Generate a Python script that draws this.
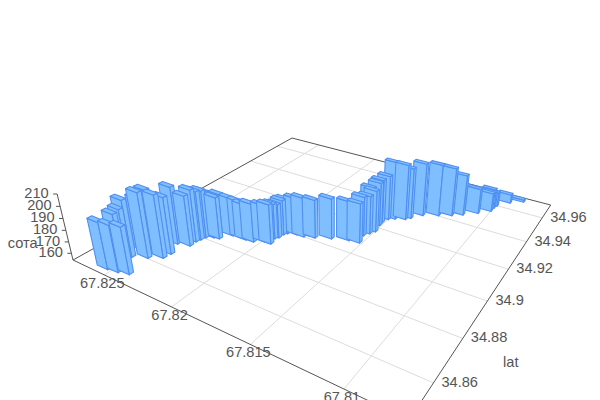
import numpy as np, pandas as pd, altair as alt

lon_vals=[67.82558,67.82489,67.82424,67.82541,67.82545,67.82542,67.82529,67.82458,67.82456,67.82387,67.82380,67.82425,67.82350,67.82352,67.82343,67.82334,67.82330,67.82294,67.82296,67.82261,67.82214,67.82159,67.82120,67.82070,67.82016,67.81973,67.81987,67.81974,67.81970,67.81957,67.81905,67.81856,67.81838,67.81794,67.81707,67.81611,67.81547,67.81566,67.81547,67.81556,67.81529,67.81543,67.81546,67.81532,67.81499,67.81443,67.81421,67.81373,67.81289,67.81220,67.81164,67.81092,67.81054,67.81032,67.81030,67.81023,67.80964,67.80894]
lat_vals=[34.8492,34.8499,34.8511,34.8541,34.8568,34.8584,34.8635,34.8610,34.8640,34.8638,34.8670,34.8729,34.8743,34.8774,34.8793,34.8813,34.8831,34.8829,34.8877,34.8834,34.8876,34.8881,34.8880,34.8884,34.8905,34.8906,34.8941,34.8954,34.8980,34.8994,34.9006,34.9008,34.9023,34.9024,34.9050,34.9074,34.9081,34.9130,34.9154,34.9184,34.9178,34.9224,34.9249,34.9282,34.9298,34.9317,34.9335,34.9380,34.9411,34.9438,34.9466,34.9509,34.9621,34.9552,34.9581,34.9604,34.9657,34.9694]
alt_vals=[194,194,194,196,197,203,200,210,209,208,203,204,198,200,197,196,193,192,188,191,188,187,186,188,187,189,185,184,185,185,187,189,186,188,190,189,189,189,188,192,191,193,193,194,206,204,200,202,201,198,191,177,167,171,169,167,162,156]
lon_ticks=[67.825,67.82,67.815,67.81]
lat_ticks=[34.86,34.88,34.9,34.92,34.94,34.96]
alt_ticks=[160,170,180,190,200,210]

# View of the box
lon0,lon1,lat0,lat1,z0,z1=67.807,67.8276,34.8458,34.972,154,210
BAR_LON,BAR_LAT,BAR_SHIFT=0.00043,0.0009,0.00007
src=[(1,0),(0,0),(0,1),(1,1)];dst=[(73,260),(409,420),(550.7,205),(292,138)]
A=[];b=[]
for (u,v),(x,y) in zip(src,dst):
    A.append([u,v,1,0,0,0,-u*x,-v*x]);b.append(x)
    A.append([0,0,0,u,v,1,-u*y,-v*y]);b.append(y)
H=np.append(np.linalg.solve(np.array(A,float),np.array(b,float)),1).reshape(3,3)
VP=np.array([335.,1350.,1.])
k=-0.0571*(H@[1,0,1])[2]/(z1-z0)
def proj(lon,lat,z):
    p=H@[(lon-lon0)/(lon1-lon0),(lat-lat0)/(lat1-lat0),1]+k*(z-z0)*VP
    return p[0]/p[2],p[1]/p[2]

def quad_rows(pts,fid):
    xs=sorted(set(p[0] for p in pts));out=[]
    n=len(pts)
    for x in xs:
        ys=[]
        for i in range(n):
            (a,c),(d,e)=pts[i],pts[(i+1)%n]
            if min(a,d)<=x<=max(a,d):
                if a==d: ys+= [c,e]
                else: ys.append(c+(x-a)/(d-a)*(e-c))
        out.append({"face":fid,"x":x,"top":min(ys),"bot":max(ys)})
    return out

order=sorted(range(len(lon_vals)),key=lambda i:proj(lon_vals[i],lat_vals[i],z0)[1])
rows=[];fid=0
for i in order:
    lo,la,z=lon_vals[i]+BAR_SHIFT,lat_vals[i],alt_vals[i]
    l,r=lo+BAR_LON,lo-BAR_LON;f,bk=la-BAR_LAT,la+BAR_LAT
    faces=[[proj(r,f,z0),proj(r,bk,z0),proj(r,bk,z),proj(r,f,z)],
           [proj(l,f,z0),proj(r,f,z0),proj(r,f,z),proj(l,f,z)],
           [proj(l,f,z),proj(r,f,z),proj(r,bk,z),proj(l,bk,z)]]
    for q in faces:
        rows+=quad_rows(q,fid);fid+=1
bars=pd.DataFrame(rows)

def seg(p,q):
    return {"x":p[0],"y":p[1],"x2":q[0],"y2":q[1]}
grid=[seg(proj(t,lat0,z0),proj(t,lat1,z0)) for t in lon_ticks]+[seg(proj(lon0,t,z0),proj(lon1,t,z0)) for t in lat_ticks]
edges=[seg(proj(lon1,lat0,z0),proj(lon0,lat0,z0)),seg(proj(lon0,lat0,z0),proj(lon0,lat1,z0)),
       seg(proj(lon0,lat1,z0),proj(lon1,lat1,z0)),seg(proj(lon1,lat1,z0),proj(lon1,lat0,z0)),
       seg(proj(lon1,lat0,z0),proj(lon1,lat0,z1))]
for t in alt_ticks:
    x,y=proj(lon1,lat0,t)
    edges.append(seg((x-4,y),(x,y)))

texts=[]
for t in lon_ticks:
    x,y=proj(t,lat0,z0);texts.append({"x":x-2,"y":y+9,"t":str(t),"a":"center"})
for t in lat_ticks:
    x,y=proj(lon0,t,z0);texts.append({"x":x+8,"y":y,"t":str(t),"a":"left"})
for t in alt_ticks:
    x,y=proj(lon1,lat0,t);texts.append({"x":x-8.5,"y":y,"t":str(t),"a":"right"})
x,y=proj(lon0,34.87,z0);texts.append({"x":x+62,"y":y+3,"t":"lat","a":"center"})
x,y=proj(lon1,lat0,170);texts.append({"x":x-31,"y":y+2,"t":"высота","a":"right"})
texts=pd.DataFrame(texts)

X=alt.X("x:Q",axis=None,scale=alt.Scale(domain=[8,592]))
Y=alt.Y("y:Q",axis=None,scale=alt.Scale(domain=[400,8]))
g=alt.Chart(pd.DataFrame(grid)).mark_rule(color="#dcdcdc",strokeWidth=1).encode(x=X,y=Y,x2="x2:Q",y2="y2:Q")
e=alt.Chart(pd.DataFrame(edges)).mark_rule(color="#555555",strokeWidth=1).encode(x=X,y=Y,x2="x2:Q",y2="y2:Q")
a=alt.Chart(bars).mark_area(fill="#80bfff",fillOpacity=1,stroke="#4f8ff0",strokeWidth=1.1,strokeJoin="round").encode(
    x=X,y=alt.Y("top:Q",axis=None,scale=alt.Scale(domain=[400,8])),y2="bot:Q",detail="face:N")
layers=[g,e,a]
for al,sub in texts.groupby("a"):
    layers.append(alt.Chart(sub).mark_text(font="Liberation Sans",fontSize=14.6,color="#555555",align=al,baseline="middle").encode(x=X,y=Y,text="t:N"))
chart=alt.layer(*layers).properties(width=584,height=392,padding=0,autosize=alt.AutoSizeParams(type="none"),background="white").configure_view(stroke=None)
chart.save("out.html",embed_options={"renderer":"svg","actions":False})
